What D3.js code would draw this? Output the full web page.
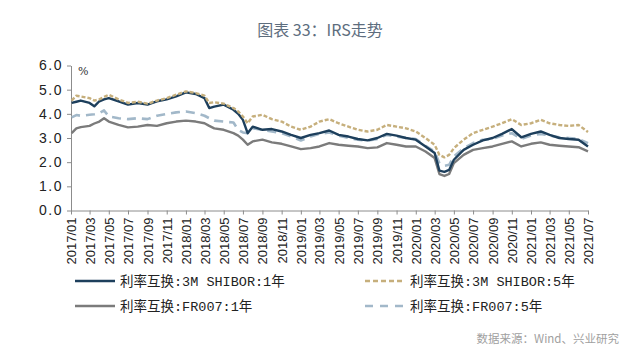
<!DOCTYPE html>
<html><head><meta charset="utf-8">
<script src="https://cdn.jsdelivr.net/npm/d3@7/dist/d3.min.js"></script>
<style>body{margin:0;background:#fff;}svg{display:block;}</style>
</head><body><svg id="c" width="640" height="360"></svg>
<script>
const dates = ["2017-01-03","2017-01-18","2017-02-01","2017-03-01","2017-03-16","2017-04-01","2017-04-16","2017-05-01","2017-06-01","2017-07-01","2017-08-01","2017-09-01","2017-10-01","2017-11-01","2017-12-01","2018-01-01","2018-02-01","2018-03-01","2018-03-16","2018-04-01","2018-05-01","2018-06-01","2018-06-16","2018-07-01","2018-07-16","2018-08-01","2018-09-01","2018-10-01","2018-11-01","2018-12-01","2019-01-01","2019-02-01","2019-03-01","2019-04-01","2019-05-01","2019-06-01","2019-07-01","2019-08-01","2019-09-01","2019-10-01","2019-11-01","2019-12-01","2020-01-01","2020-02-01","2020-03-01","2020-03-16","2020-04-01","2020-04-16","2020-05-01","2020-06-01","2020-07-01","2020-08-01","2020-09-01","2020-10-01","2020-11-01","2020-12-01","2021-01-01","2021-02-01","2021-03-01","2021-04-01","2021-05-01","2021-06-01","2021-07-01"];
const shibor1y = [4.45,4.5,4.55,4.45,4.31,4.52,4.6,4.65,4.52,4.38,4.45,4.38,4.52,4.6,4.72,4.89,4.82,4.65,4.24,4.3,4.38,4.17,4.0,3.75,3.2,3.47,3.34,3.37,3.27,3.13,3.0,3.13,3.2,3.31,3.13,3.06,2.96,2.9,3.0,3.17,3.10,3.0,2.93,2.65,2.38,1.65,1.6,1.68,2.1,2.51,2.72,2.9,3.0,3.17,3.37,3.03,3.17,3.27,3.13,3.0,2.96,2.93,2.65];
const shibor5y = [4.55,4.75,4.72,4.65,4.55,4.6,4.7,4.79,4.6,4.45,4.5,4.42,4.55,4.65,4.79,4.93,4.86,4.75,4.45,4.48,4.42,4.24,4.1,3.89,3.61,3.89,3.96,3.78,3.68,3.47,3.34,3.47,3.68,3.78,3.61,3.47,3.34,3.27,3.34,3.54,3.47,3.40,3.27,3.0,2.72,2.3,2.2,2.3,2.58,2.93,3.2,3.34,3.47,3.61,3.78,3.54,3.61,3.75,3.61,3.54,3.5,3.54,3.25];
const fr1y = [3.2,3.4,3.45,3.5,3.6,3.68,3.82,3.68,3.54,3.44,3.47,3.54,3.5,3.61,3.68,3.72,3.68,3.61,3.5,3.40,3.34,3.2,3.1,2.93,2.72,2.86,2.93,2.82,2.76,2.65,2.54,2.58,2.65,2.79,2.72,2.68,2.65,2.58,2.61,2.79,2.72,2.65,2.65,2.44,2.17,1.51,1.43,1.51,1.96,2.3,2.51,2.58,2.65,2.76,2.86,2.65,2.76,2.82,2.72,2.68,2.65,2.62,2.45];
const fr5y = [3.85,3.95,3.92,3.96,3.98,4.03,4.14,3.89,3.82,3.78,3.82,3.78,3.92,4.0,4.06,4.10,4.03,3.92,3.82,3.72,3.68,3.64,3.34,3.23,3.2,3.40,3.34,3.27,3.2,3.06,2.9,3.06,3.17,3.23,3.10,3.0,2.93,2.89,2.96,3.13,3.06,3.0,2.96,2.68,2.44,1.96,1.85,1.89,2.24,2.58,2.79,2.93,2.96,3.10,3.2,2.96,3.10,3.17,3.10,3.03,3.0,2.96,2.79];
const seriesNames = ["利率互换:3M SHIBOR:1年","利率互换:3M SHIBOR:5年","利率互换:FR007:1年","利率互换:FR007:5年"];
const yTicks = [0,1,2,3,4,5,6];
const xTickLabels = ["2017/01","2017/03","2017/05","2017/07","2017/09","2017/11","2018/01","2018/03","2018/05","2018/07","2018/09","2018/11","2019/01","2019/03","2019/05","2019/07","2019/09","2019/11","2020/01","2020/03","2020/05","2020/07","2020/09","2020/11","2021/01","2021/03","2021/05","2021/07"];
const title = "图表 33：IRS走势";
const unit = "%";
const source = "数据来源：Wind、兴业研究";

const svg = d3.select("#c");
const parse = d3.timeParse("%Y-%m-%d");
const tparse = d3.timeParse("%Y/%m");
const L = 71, R = 588, T = 65.5, B = 210.5;
const x = d3.scaleTime().domain([tparse("2017/01"), tparse("2021/07")]).range([L, R]);
const y = d3.scaleLinear().domain([0, 6]).range([B, T]);

svg.append("text").attr("x", 320).attr("y", 36).attr("text-anchor", "middle")
  .attr("font-family", "'Noto Sans CJK SC', sans-serif").attr("font-size", 16)
  .attr("fill", "#5d6d7e").text(title);

const axisColor = "#8c8c8c";
const yAxis = svg.append("g").attr("transform", `translate(${L},0)`)
  .call(d3.axisLeft(y).tickValues(yTicks).tickFormat(d3.format(".1f")).tickSize(4).tickSizeOuter(0));
yAxis.select(".domain").attr("stroke", axisColor);
yAxis.selectAll(".tick line").attr("stroke", axisColor);
yAxis.selectAll("text").attr("font-family", "'Liberation Sans', Arial, sans-serif").attr("font-size", 14)
  .attr("letter-spacing", 1.5).attr("fill", "#222").attr("x", -8);

const xAxis = svg.append("g").attr("transform", `translate(0,${B})`)
  .call(d3.axisBottom(x).tickValues(xTickLabels.map(tparse)).tickFormat(d3.timeFormat("%Y/%m")).tickSize(4).tickSizeOuter(0));
xAxis.select(".domain").attr("stroke", axisColor);
xAxis.selectAll(".tick line").attr("stroke", axisColor);
xAxis.selectAll("text").attr("font-family", "'Liberation Sans', Arial, sans-serif").attr("font-size", 13)
  .attr("fill", "#222").attr("transform", "rotate(-90)").attr("text-anchor", "end")
  .attr("x", -7).attr("y", 0).attr("dy", "0.35em");

svg.append("text").attr("x", 78).attr("y", 75).attr("font-family", "'DejaVu Serif', serif")
  .attr("font-size", 11).attr("fill", "#333").text(unit);

const styles = [
  {data: fr5y, color: "#a2b8c9", dash: "9,6", w: 2.6},
  {data: fr1y, color: "#7b7b7b", dash: null, w: 2.4},
  {data: shibor1y, color: "#1d3f5c", dash: null, w: 2.4},
  {data: shibor5y, color: "#c6af7c", dash: "4,2", w: 2.4}
];
const line = d3.line().x((d, i) => x(parse(dates[i]))).y(d => y(d)).curve(d3.curveLinear);
styles.forEach(s => {
  svg.append("path").datum(s.data).attr("d", line).attr("fill", "none")
    .attr("stroke", s.color).attr("stroke-width", s.w)
    .attr("stroke-dasharray", s.dash).attr("stroke-linejoin", "round");
});

const leg = [
  {name: seriesNames[0], color: "#1d3f5c", dash: null, lx: 75, ly: 281},
  {name: seriesNames[1], color: "#c6af7c", dash: "5,3", lx: 365, ly: 281},
  {name: seriesNames[2], color: "#7b7b7b", dash: null, lx: 75, ly: 306},
  {name: seriesNames[3], color: "#a2b8c9", dash: "8,7", lx: 365, ly: 306}
];
leg.forEach(l => {
  svg.append("line").attr("x1", l.lx).attr("x2", l.lx + 40).attr("y1", l.ly).attr("y2", l.ly)
    .attr("stroke", l.color).attr("stroke-width", 2.6).attr("stroke-dasharray", l.dash);
  svg.append("text").attr("x", l.lx + 45).attr("y", l.ly).attr("dy", "0.35em")
    .attr("font-family", "'Liberation Mono', 'Noto Sans CJK SC', monospace").attr("font-size", 13.5)
    .attr("fill", "#222").text(l.name);
});

svg.append("text").attr("x", 619).attr("y", 343).attr("text-anchor", "end")
  .attr("font-family", "'Noto Sans CJK SC', sans-serif").attr("font-size", 11.5)
  .attr("fill", "#a0a0a0").text(source);
</script></body></html>
